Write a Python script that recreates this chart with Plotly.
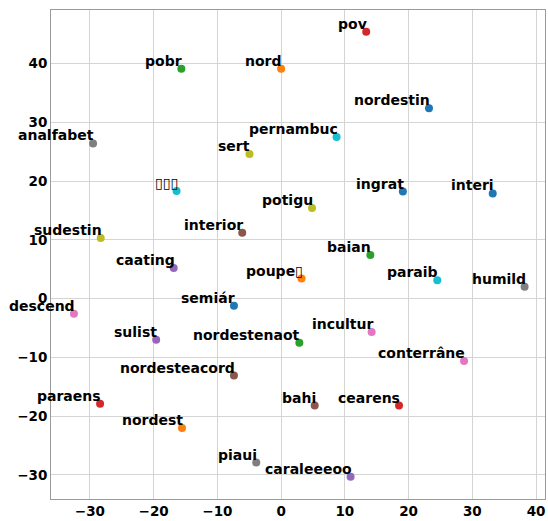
import plotly.graph_objects as go

# Word embedding coordinates (2-D projection)
words = [
    "pov", "pobr", "nord", "nordestin", "analfabet", "pernambuc", "sert",
    "\u25af\u25af\u25af", "ingrat", "interi", "potigu", "sudestin", "interior",
    "baian", "caating", "poupe\u25af", "paraib", "humild", "semiár", "descend",
    "incultur", "sulist", "nordestenaot", "conterrâne", "nordesteacord",
    "paraens", "bahi", "cearens", "nordest", "piaui", "caraleeeoo",
]
x_vals = [
    13.35, -15.65, 0.0, 23.2, -29.5, 8.7, -4.96,
    -16.4, 19.1, 33.2, 4.85, -28.3, -6.1,
    14.0, -16.85, 3.2, 24.5, 38.2, -7.4, -32.5,
    14.2, -19.6, 2.86, 28.7, -7.4,
    -28.4, 5.27, 18.5, -15.55, -3.9, 10.9,
]
y_vals = [
    45.4, 39.1, 39.1, 32.4, 26.4, 27.5, 24.6,
    18.3, 18.2, 17.9, 15.4, 10.3, 11.2,
    7.4, 5.2, 3.4, 3.1, 2.0, -1.2, -2.6,
    -5.7, -7.0, -7.5, -10.6, -13.1,
    -17.9, -18.2, -18.2, -22.0, -27.9, -30.3,
]
colors = [
    "#d62728", "#2ca02c", "#ff7f0e", "#1f77b4", "#7f7f7f", "#17becf", "#bcbd22",
    "#17becf", "#1f77b4", "#1f77b4", "#bcbd22", "#bcbd22", "#8c564b",
    "#2ca02c", "#9467bd", "#ff7f0e", "#17becf", "#7f7f7f", "#1f77b4", "#e377c2",
    "#e377c2", "#9467bd", "#2ca02c", "#e377c2", "#8c564b",
    "#d62728", "#8c564b", "#d62728", "#ff7f0e", "#7f7f7f", "#9467bd",
]
x_ticks = [-30, -20, -10, 0, 10, 20, 30, 40]
y_ticks = [-30, -20, -10, 0, 10, 20, 30, 40]

fig = go.Figure()
fig.add_trace(go.Scatter(
    x=x_vals, y=y_vals, mode="markers",
    marker=dict(color=colors, size=8, line=dict(width=0)),
    hoverinfo="skip", showlegend=False,
))

for w, xv, yv in zip(words, x_vals, y_vals):
    fig.add_annotation(
        x=xv, y=yv, text=w, showarrow=False,
        xanchor="right", yanchor="bottom", borderpad=0,
        xshift=2, yshift=-1,
        font=dict(family="DejaVu Sans", size=14, color="black", weight="bold"),
    )

axis_common = dict(
    showgrid=True, gridcolor="#d4d4d4", gridwidth=1,
    showline=True, linecolor="#9a9a9a", linewidth=1, mirror=True,
    zeroline=False, ticks="",
    tickfont=dict(family="DejaVu Sans", size=13.5, color="black", weight="bold"),
)

fig.update_xaxes(range=[-36.1, 41.4], tickvals=x_ticks, **axis_common)
fig.update_yaxes(range=[-34.1, 49.1], tickvals=y_ticks, **axis_common)

fig.update_layout(
    width=548, height=521,
    margin=dict(l=51, r=2, t=10, b=18),
    plot_bgcolor="white", paper_bgcolor="white",
)

fig.write_html("out.html")
